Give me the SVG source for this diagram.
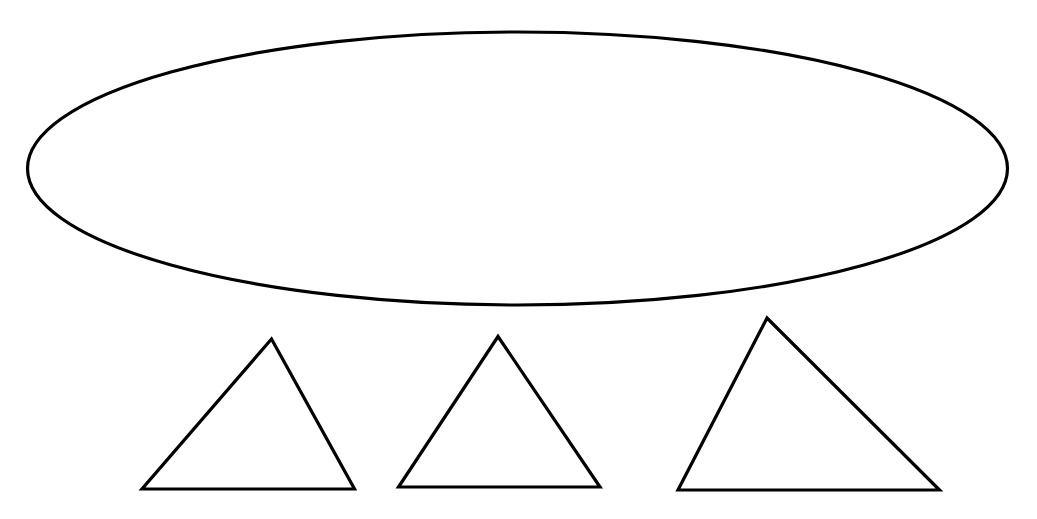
<svg xmlns="http://www.w3.org/2000/svg" width="1037" height="519" viewBox="0 0 1037 519">
<style>
.s{fill:none;stroke:#000;stroke-width:3.2;stroke-linejoin:miter}
</style>
<rect width="1037" height="519" fill="#fff"/>
<g id="ellipse"><ellipse class="s" cx="517.5" cy="168.5" rx="490" ry="136.5"/></g>
<g id="tri1"><polygon class="s" points="271.5,339 142,489 354.5,489"/></g>
<g id="tri2"><polygon class="s" points="498,336.5 398.5,487 600,487"/></g>
<g id="tri3"><polygon class="s" points="767,318 678,490 939.5,490"/></g>
<g id="connectors"></g>
</svg>
